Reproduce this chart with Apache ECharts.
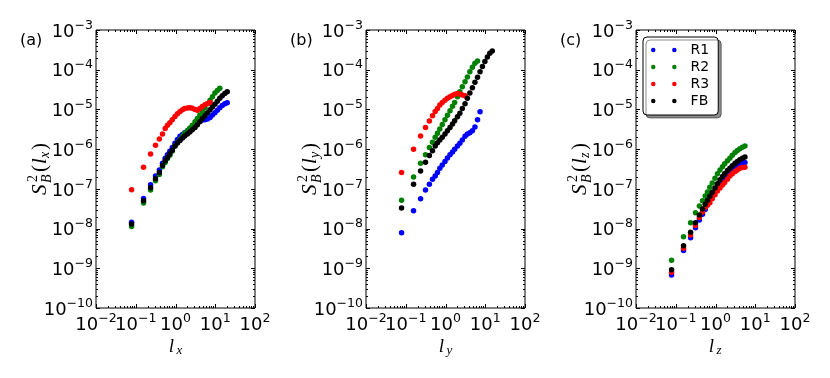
<!DOCTYPE html>
<html><head><meta charset="utf-8">
<script src="https://cdn.jsdelivr.net/npm/echarts@6/dist/echarts.min.js"></script>
<style>html,body{margin:0;padding:0;background:#fff}#c{width:830px;height:378px}</style>
</head><body><div id="c"></div>
<script>
// separation grid l (shared by all series)
const L = [0.0785, 0.157, 0.236, 0.314, 0.393, 0.471, 0.55, 0.628, 0.72, 0.83, 0.97, 1.12, 1.3, 1.5, 1.7, 2.0, 2.3, 2.65, 3.1, 3.55, 4.1, 4.75, 5.5, 6.4, 7.4, 8.5, 9.8, 11.3, 13, 15, 17.4, 20];
const seriesNames = ['R1', 'R2', 'R3', 'FB'];
const seriesColors = ['#0000ff', '#008000', '#ff0000', '#000000'];
const panelLabels = ['(a)', '(b)', '(c)'];
const axisSubs = ['x', 'y', 'z'];
const xTickExps = [-2, -1, 0, 1, 2];
const yTickExps = [-10, -9, -8, -7, -6, -5, -4, -3];

// panel (a): S_B^2(l_x)
const a_R1 = [1.45e-8, 5.7e-8, 1.26e-7, 2.1e-7, 3.0e-7, 4.4e-7, 5.9e-7, 7.2e-7, 8.8e-7, 1.1e-6, 1.4e-6, 1.75e-6, 2.1e-6, 2.35e-6, 2.6e-6, 2.9e-6, 3.2e-6, 3.6e-6, 4.1e-6, 4.7e-6, 5.2e-6, 5.4e-6, 5.5e-6, 5.7e-6, 6.3e-6, 7.2e-6, 8.2e-6, 9.6e-6, 1.1e-5, 1.25e-5, 1.4e-5, 1.48e-5];
const a_R2 = [1.12e-8, 4.4e-8, 9.3e-8, 1.6e-7, 2.3e-7, 3.6e-7, 4.6e-7, 5.8e-7, 7e-7, 9e-7, 1.2e-6, 1.45e-6, 1.75e-6, 2.1e-6, 2.5e-6, 2.9e-6, 3.4e-6, 4.0e-6, 4.9e-6, 5.9e-6, 7.2e-6, 8.9e-6, 1.1e-5, 1.4e-5, 1.7e-5, 2.1e-5, 2.6e-5, 3.0e-5, 3.4e-5];
const a_R3 = [9.5e-8, 3.5e-7, 7.6e-7, 1.26e-6, 1.8e-6, 2.4e-6, 3.3e-6, 4.0e-6, 4.6e-6, 5.5e-6, 6.6e-6, 7.8e-6, 8.9e-6, 9.8e-6, 1.05e-5, 1.09e-5, 1.1e-5, 1.07e-5, 1.0e-5, 9.5e-6, 1.05e-5, 1.18e-5, 1.32e-5, 1.42e-5, 1.5e-5];
const a_FB = [1.3e-8, 5e-8, 1.07e-7, 1.8e-7, 2.6e-7, 3.9e-7, 5.1e-7, 6.2e-7, 7.5e-7, 9.4e-7, 1.2e-6, 1.42e-6, 1.65e-6, 1.9e-6, 2.15e-6, 2.4e-6, 2.7e-6, 3.1e-6, 3.5e-6, 4.1e-6, 4.9e-6, 5.8e-6, 6.9e-6, 8.2e-6, 9.8e-6, 1.15e-5, 1.35e-5, 1.6e-5, 1.9e-5, 2.2e-5, 2.5e-5, 2.8e-5];

// panel (b): S_B^2(l_y)
const b_R1 = [7.8e-9, 2.8e-8, 5.6e-8, 9.3e-8, 1.3e-7, 1.75e-7, 2.1e-7, 2.6e-7, 3.3e-7, 4e-7, 4.9e-7, 6e-7, 7.2e-7, 8.5e-7, 1.0e-6, 1.2e-6, 1.4e-6, 1.7e-6, 2.1e-6, 2.4e-6, 2.6e-6, 2.9e-6, 3.6e-6, 5.5e-6, 8.8e-6];
const b_R2 = [5.2e-8, 2.0e-7, 4.4e-7, 7.2e-7, 1.1e-6, 1.5e-6, 2.0e-6, 2.5e-6, 3.2e-6, 4.2e-6, 5.5e-6, 7.1e-6, 9.2e-6, 1.2e-5, 1.5e-5, 2.1e-5, 2.8e-5, 3.7e-5, 5.0e-5, 6.6e-5, 8.9e-5, 1.15e-4, 1.45e-4, 1.66e-4];
const b_R3 = [2.6e-7, 1.0e-6, 2.15e-6, 3.5e-6, 5.1e-6, 6.9e-6, 8.9e-6, 1.05e-5, 1.3e-5, 1.5e-5, 1.7e-5, 1.9e-5, 2.1e-5, 2.25e-5, 2.4e-5, 2.5e-5, 2.45e-5, 2.3e-5, 2.2e-5];
const b_FB = [3.3e-8, 1.3e-7, 2.8e-7, 4.7e-7, 6.9e-7, 9.1e-7, 1.2e-6, 1.45e-6, 1.7e-6, 2.0e-6, 2.4e-6, 2.9e-6, 3.5e-6, 4.3e-6, 5.2e-6, 6.5e-6, 8e-6, 1.05e-5, 1.4e-5, 1.9e-5, 2.6e-5, 3.5e-5, 4.8e-5, 6.5e-5, 8.9e-5, 1.2e-4, 1.6e-4, 2.1e-4, 2.6e-4, 2.95e-4];

// panel (c): S_B^2(l_z)
const c_R1 = [6.8e-10, 2.8e-9, 5.9e-9, 1.05e-8, 1.65e-8, 2.3e-8, 3.0e-8, 3.9e-8, 5.3e-8, 6.8e-8, 8.8e-8, 1.12e-7, 1.4e-7, 1.7e-7, 2.0e-7, 2.4e-7, 2.8e-7, 3.2e-7, 3.7e-7, 4.0e-7, 4.3e-7, 4.5e-7, 4.6e-7];
const c_R2 = [1.6e-9, 6.2e-9, 1.4e-8, 2.5e-8, 3.7e-8, 5e-8, 6.6e-8, 8.3e-8, 1.1e-7, 1.4e-7, 1.85e-7, 2.4e-7, 3.0e-7, 3.6e-7, 4.3e-7, 5.1e-7, 5.9e-7, 7e-7, 8.2e-7, 9.2e-7, 1.02e-6, 1.12e-6, 1.2e-6];
const c_R3 = [7.9e-10, 3.2e-9, 6.9e-9, 1.2e-8, 1.9e-8, 2.6e-8, 3.4e-8, 3.9e-8, 4.5e-8, 5.6e-8, 7.1e-8, 8.8e-8, 1.05e-7, 1.25e-7, 1.45e-7, 1.75e-7, 2.1e-7, 2.4e-7, 2.75e-7, 3.0e-7, 3.3e-7, 3.45e-7, 3.5e-7];
const c_FB = [9.2e-10, 3.7e-9, 8.1e-9, 1.4e-8, 2.2e-8, 3.1e-8, 4.1e-8, 5.2e-8, 6.5e-8, 8.2e-8, 1.05e-7, 1.35e-7, 1.7e-7, 2.05e-7, 2.4e-7, 2.9e-7, 3.3e-7, 3.8e-7, 4.4e-7, 4.9e-7, 5.4e-7, 5.9e-7, 6.3e-7];

const panels = [[a_R1, a_R2, a_R3, a_FB], [b_R1, b_R2, b_R3, b_FB], [c_R1, c_R2, c_R3, c_FB]];

const X_MIN = Math.pow(10, xTickExps[0]), X_MAX = Math.pow(10, xTickExps[xTickExps.length - 1]);
const Y_MIN = Math.pow(10, yTickExps[0]), Y_MAX = Math.pow(10, yTickExps[yTickExps.length - 1]);

const FONT = 'DejaVu Sans';
const gridLefts = [96, 366, 636];
const GRID_TOP = 30, GRID_W = 159, GRID_H = 278;

function powText(e) {
  return '{b|10}{s|' + (e < 0 ? '\u2212' : '') + Math.abs(e) + '}';
}
function powLabel(v) { return powText(Math.round(Math.log10(v))); }
const labelRich = {
  b: { fontSize: 18, fontFamily: FONT, color: '#000', verticalAlign: 'bottom', lineHeight: 22 },
  s: { fontSize: 12.5, fontFamily: FONT, color: '#000', verticalAlign: 'top', lineHeight: 22 }
};

const grids = [], xAxes = [], yAxes = [], series = [], graphics = [];
for (let p = 0; p < 3; p++) {
  grids.push({ left: gridLefts[p], top: GRID_TOP, width: GRID_W, height: GRID_H, show: true, borderColor: '#000', borderWidth: 1, backgroundColor: '#fff' });
  xAxes.push({
    type: 'log', logBase: 10, gridIndex: p, min: X_MIN, max: X_MAX, interval: 1, splitNumber: 4,
    axisLine: { show: false }, axisTick: { show: false }, splitLine: { show: false },
    axisLabel: { show: false }
  });
  yAxes.push({
    type: 'log', logBase: 10, gridIndex: p, min: Y_MIN, max: Y_MAX, interval: 1, splitNumber: 7,
    axisLine: { show: false }, axisTick: { show: false }, splitLine: { show: false },
    axisLabel: { formatter: powLabel, rich: labelRich, margin: 3, interval: 0, showMinLabel: true, showMaxLabel: true, hideOverlap: false }
  });
  // ticks (major + log minor) on all four sides, inside; x tick labels at every decade
  series.push({
    type: 'custom', xAxisIndex: p, yAxisIndex: p, silent: true, clip: false, z: 5,
    data: [[1, 1e-6]],
    renderItem: function (params, api) {
      const ch = [];
      const lb = api.coord([X_MIN, Y_MIN]);
      const rt = api.coord([X_MAX, Y_MAX]);
      const st = { stroke: '#000', lineWidth: 1 };
      for (let i = 0; i < xTickExps.length; i++) {
        const major = api.coord([Math.pow(10, xTickExps[i]), Y_MIN]);
        ch.push({ type: 'text', x: major[0], y: lb[1] + 4, style: { text: powText(xTickExps[i]), rich: labelRich, align: 'center', verticalAlign: 'top' } });
        for (let m = 1; m <= 9; m++) {
          const v = m * Math.pow(10, xTickExps[i]);
          if (v > X_MAX * 1.0001) break;
          const px = Math.round(api.coord([v, Y_MIN])[0]) + 0.5;
          const len = m === 1 ? 4 : 2;
          ch.push({ type: 'line', shape: { x1: px, y1: lb[1], x2: px, y2: lb[1] - len }, style: st });
          ch.push({ type: 'line', shape: { x1: px, y1: rt[1], x2: px, y2: rt[1] + len }, style: st });
        }
      }
      for (let i = 0; i < yTickExps.length; i++) {
        for (let m = 1; m <= 9; m++) {
          const v = m * Math.pow(10, yTickExps[i]);
          if (v > Y_MAX * 1.0001) break;
          const py = Math.round(api.coord([X_MIN, v])[1]) + 0.5;
          const len = m === 1 ? 4 : 2;
          ch.push({ type: 'line', shape: { x1: lb[0], y1: py, x2: lb[0] + len, y2: py }, style: st });
          ch.push({ type: 'line', shape: { x1: rt[0], y1: py, x2: rt[0] - len, y2: py }, style: st });
        }
      }
      return { type: 'group', children: ch };
    }
  });
  for (let s = 0; s < 4; s++) {
    const vals = panels[p][s];
    series.push({
      type: 'scatter', name: seriesNames[s], xAxisIndex: p, yAxisIndex: p,
      symbol: 'circle', symbolSize: 5.5, itemStyle: { color: seriesColors[s], opacity: 1 },
      data: vals.map((v, i) => [L[i], v]), z: 3
    });
  }
  const gx = gridLefts[p];
  graphics.push({ type: 'text', x: gx - 76, y: 33, style: { text: panelLabels[p], font: '16px ' + FONT, fill: '#000', align: 'left', verticalAlign: 'top' } });
  // x-axis name l_sub
  graphics.push({ type: 'group', x: gx + 79.5, y: 347, children: [
    { type: 'text', x: -4, y: 0, style: { text: 'l', font: 'italic 19px "Liberation Serif"', fill: '#000', align: 'center', verticalAlign: 'middle' } },
    { type: 'text', x: 1, y: 4, style: { text: axisSubs[p], font: 'italic 13px "Liberation Serif"', fill: '#000', align: 'left', verticalAlign: 'middle' } }
  ] });
  // y-axis name S_B^2(l_sub), rotated
  graphics.push({ type: 'group', x: gx - 56, y: GRID_TOP + GRID_H / 2 - 4, rotation: Math.PI / 2, children: [
    { type: 'text', x: -30, y: 0, style: { text: 'S', font: 'italic 21px "Liberation Serif"', fill: '#000', align: 'left', verticalAlign: 'middle' } },
    { type: 'text', x: -17, y: -7, style: { text: '2', font: '14px "Liberation Serif"', fill: '#000', align: 'left', verticalAlign: 'middle' } },
    { type: 'text', x: -18, y: 7, style: { text: 'B', font: 'italic 14px "Liberation Serif"', fill: '#000', align: 'left', verticalAlign: 'middle' } },
    { type: 'text', x: -7, y: 0, style: { text: '(', font: '21px "Liberation Serif"', fill: '#000', align: 'left', verticalAlign: 'middle' } },
    { type: 'text', x: 1, y: 0, style: { text: 'l', font: 'italic 21px "Liberation Serif"', fill: '#000', align: 'left', verticalAlign: 'middle' } },
    { type: 'text', x: 7, y: 5, style: { text: axisSubs[p], font: 'italic 14px "Liberation Serif"', fill: '#000', align: 'left', verticalAlign: 'middle' } },
    { type: 'text', x: 15, y: 0, style: { text: ')', font: '21px "Liberation Serif"', fill: '#000', align: 'left', verticalAlign: 'middle' } }
  ] });
}

const chart = echarts.init(document.getElementById('c'), null, { renderer: 'canvas' });
chart.setOption({
  animation: false,
  backgroundColor: '#fff',
  grid: grids, xAxis: xAxes, yAxis: yAxes, series: series, graphic: graphics,
  legend: {
    data: seriesNames, orient: 'vertical', left: 643, top: 37,
    padding: [6, 9, 7, 8], itemGap: 3, itemWidth: 25.6, itemHeight: 4.5,
    icon: 'path://M0,2.25a2.25,2.25 0 1,0 4.5,0a2.25,2.25 0 1,0 -4.5,0 M21.1,2.25a2.25,2.25 0 1,0 4.5,0a2.25,2.25 0 1,0 -4.5,0',
    backgroundColor: '#fff', borderColor: '#000', borderWidth: 1, borderRadius: 4,
    shadowColor: 'rgba(0,0,0,0.45)', shadowOffsetX: 3, shadowOffsetY: 3, shadowBlur: 0,
    textStyle: { fontFamily: FONT, fontSize: 14, color: '#000', padding: [0, 0, 0, 9] },
    selectedMode: false
  }
});
</script></body></html>
